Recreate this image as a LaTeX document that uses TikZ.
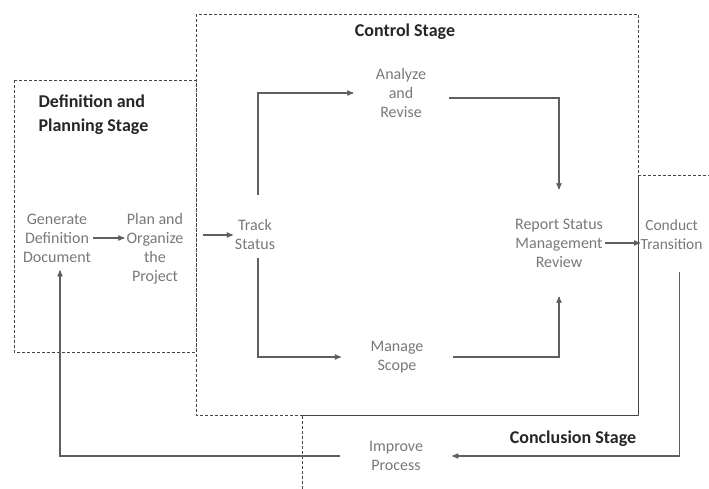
\documentclass[tikz,border=0pt]{standalone}
\usepackage{fontspec}
\setmainfont{Carlito}
\usetikzlibrary{calc}
\usetikzlibrary{arrows}
\definecolor{txtgray}{RGB}{120,120,120}
\definecolor{lngray}{RGB}{95,95,95}
\definecolor{bxgray}{RGB}{70,70,70}

\begin{document}
\begin{tikzpicture} [x=1pt, y=-1pt,
  task/.style={align=center, text=txtgray, font=\fontsize{16}{19}\selectfont, inner sep=2pt},
  stagettl/.style={align=left, text=black!85, font=\fontsize{18}{24}\selectfont\bfseries},
  flow/.style={lngray, line width=1.2pt, ->, >=stealth'},
  stagebox/.style={bxgray, densely dashed, line width=0.8pt}]
\useasboundingbox (0,0) rectangle (709,489);
% stage frames
\draw[stagebox] (14,80) rectangle (196,352);
\draw[stagebox] (196,14) rectangle (638,415);
\draw[stagebox] (302,489) -- (302,415) -- (638,415) -- (638,175) -- (709,175);
\node[stagettl, anchor=west] (defttl) at (35,115) {Definition and\\Planning Stage};
\node[stagettl] (ctrlttl) at (405,32) {Control Stage};
\node[stagettl] (conclttl) at (573,439) {Conclusion Stage};
% tasks
\node[task] (gen) at (57,238) {Generate\\Definition\\Document};
\node[task] (plan) at (155,249) {Plan and\\Organize\\the\\Project};
\node[task] (track) at (255,235) {Track\\Status};
\node[task, minimum width=95pt] (analyze) at (401,93) {Analyze\\and\\Revise};
\node[task, minimum width=112pt] (manage) at (397,357) {Manage\\Scope};
\node[task, minimum height=107pt] (report) at (559,243) {Report Status\\Management\\Review};
\node[task, anchor=west, inner xsep=0.5pt, font=\fontsize{15.5}{19}\selectfont] (conduct) at (640,235) {Conduct\\Transition};
\node[task, minimum width=112pt] (improve) at (396,456) {Improve\\Process};
% flows
\draw[flow] (gen.east) -- (gen.east -| plan.west);
\draw[flow] ([xshift=17pt]plan.east |- track.west) -- (track.west);
\draw[flow] ([xshift=3pt,yshift=23pt]track.north) |- (analyze.west);
\draw[flow] ([xshift=3pt,yshift=-6pt]track.south) |- (manage.west);
\draw[flow] ([yshift=-5pt]analyze.east) -| (report.north);
\draw[flow] (manage.east) -| (report.south);
\draw[flow] (report.east) -- (report.east -| conduct.west);
\draw[flow] ([xshift=8pt,yshift=-20pt]conduct.south) |- (improve.east);
\draw[flow] (improve.west) -| ([xshift=3pt,yshift=-6pt]gen.south);
\end{tikzpicture}
\end{document}
